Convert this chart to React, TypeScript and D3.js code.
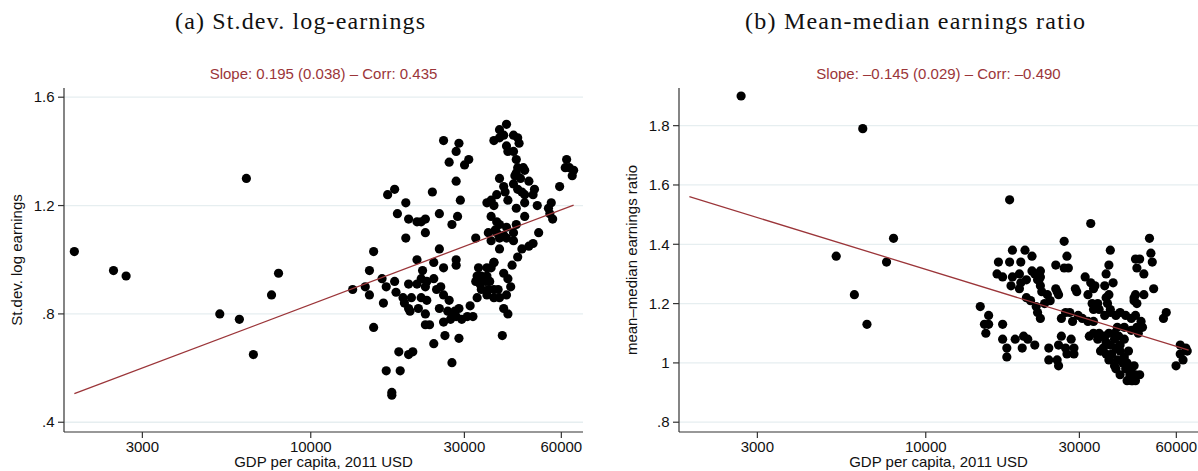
import React from "react";
import * as d3 from "d3";

const W = 1198;
const H = 471;

// Each point: [ln GDP per capita (2011 USD), outcome]
const sdLogEarnings: [number, number][] = [
  [7.52, 1.03], [8.75, 1.30], [7.80, 0.96], [7.89, 0.94], [8.56, 0.80], [8.70, 0.78], [8.80, 0.65], [8.93, 0.87], [8.98, 0.95],
  [10.16, 1.44], [10.27, 1.43], [10.25, 1.40], [10.20, 1.36], [10.34, 1.37], [10.31, 1.35], [10.25, 1.29], [9.76, 1.24], [9.81, 1.26], [10.08, 1.25],
  [9.89, 1.21], [9.83, 1.17], [9.91, 1.15], [9.97, 1.14], [10.03, 1.15], [10.00, 1.14], [10.13, 1.17], [10.26, 1.16], [10.28, 1.22], [10.22, 1.13],
  [9.89, 1.08], [10.03, 1.10], [9.66, 1.03], [10.13, 1.04], [9.97, 1.00], [10.25, 1.00], [10.39, 1.08], [10.61, 1.50], [10.56, 1.48], [10.52, 1.44],
  [10.59, 1.46], [10.66, 1.46], [10.69, 1.45], [10.70, 1.43], [10.61, 1.42], [10.66, 1.40], [10.62, 1.40], [10.56, 1.45], [10.68, 1.37], [10.69, 1.34],
  [10.73, 1.34], [10.68, 1.32], [10.74, 1.33], [10.71, 1.30], [10.67, 1.31], [10.77, 1.29], [10.81, 1.26], [10.80, 1.24], [10.66, 1.28], [10.69, 1.26],
  [10.72, 1.25], [10.74, 1.24], [10.56, 1.30], [10.59, 1.27], [10.60, 1.25], [10.54, 1.24], [10.50, 1.22], [10.47, 1.21], [10.52, 1.20], [10.62, 1.22],
  [10.68, 1.19], [10.74, 1.21], [10.74, 1.16], [10.83, 1.20], [10.50, 1.16], [10.54, 1.14], [10.56, 1.13], [10.53, 1.11], [10.61, 1.12], [10.68, 1.13],
  [10.48, 1.10], [10.54, 1.10], [10.59, 1.09], [10.66, 1.10], [10.50, 1.07], [10.56, 1.08], [10.61, 1.08], [10.66, 1.07], [10.56, 1.04], [10.72, 1.04],
  [10.77, 1.05], [10.80, 1.06], [10.84, 1.10], [10.69, 1.01], [10.52, 0.99], [11.04, 1.37], [11.03, 1.34], [11.06, 1.34], [11.09, 1.33], [11.08, 1.31],
  [10.99, 1.27], [10.93, 1.21], [10.91, 1.19], [10.92, 1.17], [10.94, 1.15],
  [10.09, 0.99], [10.25, 0.98], [10.16, 0.97], [9.63, 0.96], [10.01, 0.96], [9.72, 0.93], [9.51, 0.89], [9.60, 0.90], [9.75, 0.90], [9.81, 0.92],
  [9.63, 0.87], [9.82, 0.88], [9.91, 0.91], [9.97, 0.91], [10.00, 0.93], [10.04, 0.92], [10.09, 0.93], [10.03, 0.90], [10.11, 0.89], [10.14, 0.90],
  [9.73, 0.84], [9.87, 0.86], [9.88, 0.84], [9.93, 0.86], [10.00, 0.86], [10.04, 0.85], [9.91, 0.82], [9.92, 0.81], [9.98, 0.82], [10.03, 0.80],
  [10.13, 0.82], [10.16, 0.87], [10.20, 0.85], [10.19, 0.81], [10.22, 0.80], [10.24, 0.81], [10.27, 0.82], [10.16, 0.77], [10.21, 0.78], [10.25, 0.79],
  [10.29, 0.78], [10.33, 0.79], [10.35, 0.83], [10.37, 0.79], [10.03, 0.76], [10.06, 0.76], [9.66, 0.75], [10.17, 0.72], [10.27, 0.71], [10.09, 0.69],
  [9.84, 0.66], [9.91, 0.65], [9.94, 0.66], [9.75, 0.59], [9.85, 0.59], [10.22, 0.62], [9.79, 0.50], [9.79, 0.51], [10.58, 0.72],
  [10.41, 0.97], [10.47, 0.97], [10.52, 0.99], [10.50, 0.97], [10.40, 0.94], [10.43, 0.94], [10.47, 0.94], [10.39, 0.92], [10.42, 0.91], [10.46, 0.92],
  [10.49, 0.92], [10.43, 0.89], [10.48, 0.89], [10.52, 0.89], [10.55, 0.89], [10.47, 0.87], [10.52, 0.86], [10.56, 0.86], [10.40, 0.86], [10.59, 0.95],
  [10.62, 0.93], [10.64, 0.90], [10.61, 0.87], [10.65, 0.98], [10.59, 0.82], [10.62, 0.80],
];

const meanMedianRatio: [number, number][] = [
  [7.89, 1.90], [8.76, 1.79], [8.98, 1.42], [8.57, 1.36], [8.93, 1.34], [8.70, 1.23], [8.79, 1.13],
  [9.81, 1.55], [10.39, 1.47], [10.20, 1.41], [10.81, 1.42], [9.83, 1.38], [9.92, 1.38], [9.97, 1.36], [9.73, 1.34], [9.81, 1.34], [9.89, 1.34],
  [10.53, 1.38], [10.52, 1.33], [10.74, 1.35], [10.82, 1.37], [10.83, 1.34], [10.14, 1.33], [10.22, 1.36],
  [9.72, 1.30], [9.76, 1.29], [9.83, 1.29], [9.88, 1.30], [9.97, 1.31], [10.03, 1.31], [10.02, 1.28], [10.03, 1.26], [9.93, 1.28], [9.89, 1.27],
  [9.82, 1.26], [10.20, 1.32], [10.23, 1.32], [10.14, 1.25], [10.28, 1.25], [10.35, 1.29], [10.39, 1.27], [10.42, 1.26], [10.50, 1.30], [10.55, 1.27],
  [10.49, 1.26], [10.72, 1.32], [10.77, 1.30], [10.84, 1.25],
  [9.88, 1.25], [9.93, 1.22], [9.96, 1.21], [10.00, 1.19], [10.01, 1.17], [10.03, 1.15], [10.04, 1.24], [10.08, 1.23], [10.10, 1.21], [10.06, 1.20],
  [10.15, 1.24], [10.16, 1.23], [10.29, 1.24], [10.37, 1.23], [10.41, 1.25], [10.52, 1.23], [10.50, 1.22], [10.44, 1.20], [10.70, 1.22], [10.72, 1.20],
  [10.77, 1.23], [9.60, 1.19], [9.66, 1.16], [9.63, 1.13], [9.66, 1.13], [9.64, 1.10], [9.76, 1.13], [9.76, 1.08], [9.79, 1.05], [9.79, 1.02],
  [9.85, 1.08], [9.90, 1.05], [9.91, 1.09], [9.94, 1.08], [9.99, 1.06], [10.09, 1.05], [10.09, 1.01], [10.15, 1.01], [10.16, 0.99], [10.16, 1.06],
  [10.18, 1.09], [10.21, 1.05], [10.22, 1.03], [10.25, 1.08], [10.27, 1.05], [10.27, 1.03], [10.18, 1.15], [10.21, 1.17], [10.24, 1.17], [10.26, 1.14],
  [10.30, 1.16], [10.33, 1.15], [10.37, 1.14], [10.41, 1.14], [10.38, 1.09], [10.41, 1.10], [10.45, 1.10], [10.49, 1.09], [10.52, 1.10], [10.48, 1.05],
  [10.52, 1.01], [10.56, 0.99], [10.58, 1.01], [10.60, 1.04], [10.63, 1.02], [10.65, 1.00], [10.68, 0.98], [10.71, 0.96], [10.74, 0.96], [10.69, 0.94],
  [10.67, 0.96], [10.40, 1.20], [10.41, 1.18], [10.45, 1.18], [10.49, 1.16], [10.53, 1.17], [10.57, 1.16], [10.60, 1.17], [10.64, 1.16], [10.68, 1.15],
  [10.71, 1.16], [10.75, 1.14], [10.76, 1.12], [10.72, 1.12], [10.68, 1.11], [10.63, 1.12], [10.58, 1.12], [10.56, 1.10], [10.59, 1.09], [10.56, 1.08],
  [10.53, 1.06], [10.57, 1.05], [10.60, 1.06], [10.63, 1.08], [10.93, 1.17], [10.91, 1.15], [11.03, 1.06], [11.07, 1.05], [11.03, 1.03], [11.05, 1.01],
  [11.00, 0.99], [11.08, 1.04], [10.68, 0.94], [10.51, 1.20], [10.53, 1.18],
  [10.70, 1.21], [10.71, 1.23], [10.71, 1.35], [9.99, 1.30], [10.01, 1.28], [10.03, 1.29], [10.46, 1.04], [10.50, 1.03], [10.57, 0.98], [10.60, 0.96],
  [10.64, 0.98], [10.71, 0.94], [10.65, 0.94], [10.44, 1.08], [10.50, 1.07], [10.62, 1.00], [10.66, 1.04], [10.54, 1.03], [10.70, 0.99], [10.73, 1.10],
];

// GDP per capita tick values (plotted on ln scale)
const gdpTicks = [3000, 10000, 30000, 60000];
const sdTicks = [0.4, 0.8, 1.2, 1.6];
const ratioTicks = [0.8, 1, 1.2, 1.4, 1.6, 1.8];

// OLS fits against ln GDP per capita
const sdSlope = 0.195;
const sdSlopeSe = 0.038;
const sdCorr = 0.435;
const sdIntercept = -0.961;

const ratioSlope = -0.145;
const ratioSlopeSe = 0.029;
const ratioCorr = -0.49;
const ratioIntercept = 2.651;

const SANS = "'Liberation Sans', Arial, Helvetica, sans-serif";
const SERIF = "'Liberation Serif', 'Times New Roman', serif";
const FIT_RED = "#9b3539";
const GRID = "#e6eef0";
const AXIS = "#333333";

const lnGdpDomain: [number, number] = [7.446, 11.157];
const fitRange = d3.extent([...sdLogEarnings, ...meanMedianRatio], (d) => d[0]) as [number, number];

const stata = (v: number) => {
  const s = d3.format(".3f")(Math.abs(v));
  return (v < 0 ? "\u2013" : "") + s;
};
const tickFmt = (v: number) => String(v).replace(/^0\./, ".");

type PanelProps = {
  left: number;
  right: number;
  top: number;
  bottom: number;
  yDomain: [number, number];
  yTicks: number[];
  data: [number, number][];
  slope: number;
  se: number;
  corr: number;
  intercept: number;
  yTitle: string;
  title: string;
  titleX: number;
  titleWidth: number;
};

function Panel(p: PanelProps) {
  const x = d3.scaleLinear().domain(lnGdpDomain).range([p.left, p.right]);
  const y = d3.scaleLinear().domain(p.yDomain).range([p.bottom, p.top]);
  const fitLine = d3
    .line<number>()
    .x((g) => x(g))
    .y((g) => y(p.intercept + p.slope * g));
  const cx = (p.left + p.right) / 2;
  const cy = (p.top + p.bottom) / 2;
  return (
    <g>
      <text
        x={p.titleX}
        y={29}
        fontFamily={SERIF}
        fontSize={24}
        textAnchor="middle"
        textLength={p.titleWidth}
        lengthAdjust="spacing"
        fill="#111"
      >
        {p.title}
      </text>
      <text x={cx} y={79} fontFamily={SANS} fontSize={15} textAnchor="middle" fill={FIT_RED}>
        {`Slope: ${stata(p.slope)} (${stata(p.se)}) \u2013 Corr: ${stata(p.corr)}`}
      </text>
      {p.yTicks.map((t) => (
        <line key={"g" + t} x1={p.left} x2={p.right} y1={y(t)} y2={y(t)} stroke={GRID} strokeWidth={1.3} />
      ))}
      <line x1={p.left} x2={p.left} y1={p.top} y2={p.bottom} stroke={AXIS} strokeWidth={1.2} />
      <line x1={p.left} x2={p.right} y1={p.bottom} y2={p.bottom} stroke={AXIS} strokeWidth={1.2} />
      {p.yTicks.map((t) => (
        <g key={"y" + t}>
          <line x1={p.left - 6} x2={p.left} y1={y(t)} y2={y(t)} stroke={AXIS} strokeWidth={1.2} />
          <text
            x={p.left - 9.5}
            y={y(t)}
            dy="0.35em"
            fontFamily={SANS}
            fontSize={15}
            textAnchor="end"
            fill="#111"
          >
            {tickFmt(t)}
          </text>
        </g>
      ))}
      {gdpTicks.map((t) => (
        <g key={"x" + t}>
          <line x1={x(Math.log(t))} x2={x(Math.log(t))} y1={p.bottom} y2={p.bottom + 6} stroke={AXIS} strokeWidth={1.2} />
          <text x={x(Math.log(t))} y={452} fontFamily={SANS} fontSize={15} textAnchor="middle" fill="#111">
            {t}
          </text>
        </g>
      ))}
      <text x={cx} y={467} fontFamily={SANS} fontSize={15} textAnchor="middle" fill="#111">
        GDP per capita, 2011 USD
      </text>
      <text
        transform={`translate(${p.left - 42},${cy}) rotate(-90)`}
        fontFamily={SANS}
        fontSize={15}
        textAnchor="middle"
        fill="#111"
      >
        {p.yTitle}
      </text>
      {p.data.map((d, i) => (
        <circle key={i} cx={x(d[0])} cy={y(d[1])} r={4.6} fill="#000" />
      ))}
      <path d={fitLine(fitRange) || ""} fill="none" stroke={FIT_RED} strokeWidth={1.3} />
    </g>
  );
}

export default function App() {
  return (
    <svg
      width={W}
      height={H}
      viewBox={`0 0 ${W} ${H}`}
      style={{ position: "absolute", left: 0, top: 0, background: "#fff" }}
    >
      <rect width={W} height={H} fill="#fff" />
      <Panel
        left={64}
        right={583}
        top={88}
        bottom={432}
        yDomain={[0.364, 1.634]}
        yTicks={sdTicks}
        data={sdLogEarnings}
        slope={sdSlope}
        se={sdSlopeSe}
        corr={sdCorr}
        intercept={sdIntercept}
        yTitle="St.dev. log earnings"
        title="(a) St.dev. log-earnings"
        titleX={300}
        titleWidth={250}
      />
      <Panel
        left={679}
        right={1198}
        top={88}
        bottom={432}
        yDomain={[0.767, 1.927]}
        yTicks={ratioTicks}
        data={meanMedianRatio}
        slope={ratioSlope}
        se={ratioSlopeSe}
        corr={ratioCorr}
        intercept={ratioIntercept}
        yTitle={"mean\u2013median earnings ratio"}
        title="(b) Mean-median earnings ratio"
        titleX={915}
        titleWidth={340}
      />
    </svg>
  );
}
